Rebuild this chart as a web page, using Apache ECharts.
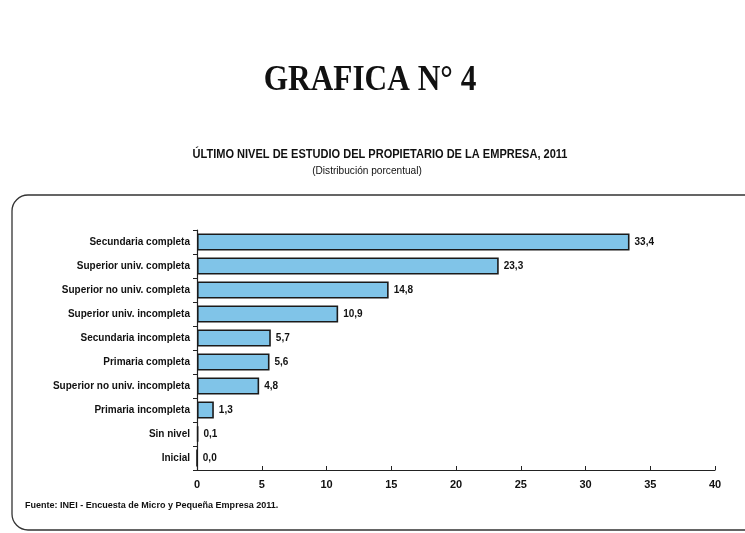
<!DOCTYPE html>
<html>
<head>
<meta charset="utf-8">
<script src="https://cdn.jsdelivr.net/npm/echarts@6/dist/echarts.min.js"></script>
<style>
  html, body { margin: 0; padding: 0; background: #fff; }
  #chart { width: 745px; height: 533px; }
</style>
</head>
<body>
<div id="chart"></div>
<script>
// niveles de estudio, de arriba hacia abajo
const categories = [
    'Secundaria completa',
    'Superior univ. completa',
    'Superior no univ. completa',
    'Superior univ. incompleta',
    'Secundaria incompleta',
    'Primaria completa',
    'Superior no univ. incompleta',
    'Primaria incompleta',
    'Sin nivel',
    'Inicial',
];
const values = [33.4, 23.3, 14.8, 10.9, 5.7, 5.6, 4.8, 1.3, 0.1, 0.0];
const xTicks = [0, 5, 10, 15, 20, 25, 30, 35, 40];

const sans = '"Liberation Sans", Arial, sans-serif';

const chart = echarts.init(document.getElementById('chart'));

// texto condensado (el original usa una fuente estrecha)
const label = (text, x, y, font, scaleX, align) => ({
    type: 'text',
    x,
    y,
    scaleX,
    style: {
        text,
        font,
        fill: '#111',
        align: align || 'center',
        verticalAlign: 'middle',
    },
});

const option = {
    animation: false,
    backgroundColor: '#fff',
    graphic: [
        label('GRAFICA N° 4', 370, 81, 'bold 36px "Liberation Serif", "Times New Roman", serif', 0.87),
        label('ÚLTIMO NIVEL DE ESTUDIO DEL PROPIETARIO DE LA EMPRESA, 2011', 380, 155, 'bold 12px ' + sans, 0.92),
        label('(Distribución porcentual)', 367, 171, '11px ' + sans, 0.92),
        label('Fuente: INEI - Encuesta de Micro y Pequeña Empresa 2011.', 25, 505, 'bold 9.5px ' + sans, 0.95, 'left'),
        {
            // marco redondeado que sale por la derecha
            type: 'rect',
            shape: { x: 12, y: 195, width: 760, height: 335, r: 16 },
            style: { fill: 'none', stroke: '#333', lineWidth: 1.3 },
            z: -1,
        },
    ],
    grid: {
        left: 197,
        right: 30,
        top: 230,
        bottom: 63,
    },
    xAxis: {
        type: 'value',
        min: xTicks[0],
        max: xTicks[xTicks.length - 1],
        interval: xTicks[1] - xTicks[0],
        axisLine: { show: true, lineStyle: { color: '#222', width: 1.2 } },
        axisTick: { show: true, inside: true, length: 4, lineStyle: { color: '#222' } },
        axisLabel: {
            margin: 9,
            fontFamily: sans,
            fontWeight: 'bold',
            fontSize: 11,
            color: '#111',
        },
        splitLine: { show: false },
    },
    yAxis: {
        type: 'category',
        data: categories,
        inverse: true,
        axisLine: { show: true, lineStyle: { color: '#222', width: 1.2 } },
        axisTick: { show: true, length: 4, lineStyle: { color: '#222' } },
        axisLabel: {
            margin: 7,
            fontFamily: sans,
            fontWeight: 'bold',
            fontSize: 10,
            color: '#111',
        },
    },
    series: [
        {
            type: 'bar',
            data: values,
            barWidth: 17,
            itemStyle: {
                color: '#80c4e8',
                borderColor: '#1a1a1a',
                borderWidth: 1.6,
            },
            label: {
                show: true,
                position: 'right',
                distance: 5,
                fontFamily: sans,
                fontWeight: 'bold',
                fontSize: 10,
                color: '#111',
                formatter: (p) => p.value.toFixed(1).replace('.', ','),
            },
        },
    ],
};

chart.setOption(option);
</script>
</body>
</html>
